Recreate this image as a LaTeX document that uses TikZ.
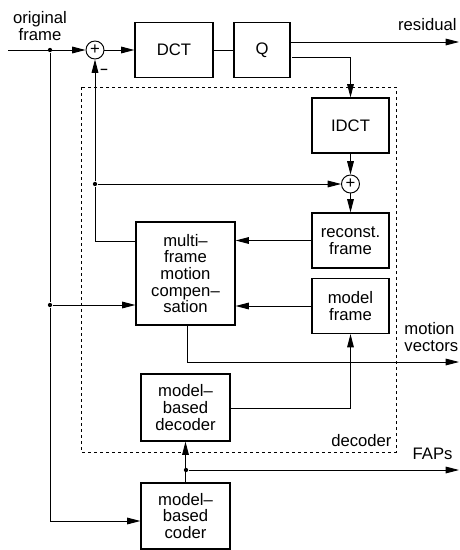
\documentclass[tikz,border=0pt]{standalone}
\usepackage{fontspec}
\setmainfont{Liberation Sans}
\usetikzlibrary{arrows.meta}
\begin{document}
\begin{tikzpicture}[x=0.75pt,y=-0.75pt,
  font=\fontsize{12.5}{12.5}\selectfont,
  line width=0.7pt,
  box/.style={draw, line width=0.9pt, inner sep=0pt, align=center},
  sum/.style={draw, circle, line width=0.7pt, minimum size=13.5pt, inner sep=0pt},
  arr/.style={-{Triangle[length=10pt,width=5pt]}},
  junction/.style={circle, fill, inner sep=0pt, minimum size=3.2pt},
  lbl/.style={inner sep=0pt, align=center}]
\useasboundingbox (0,0) rectangle (460,550);
% dashed decoder region
\draw[dash pattern=on 2.25pt off 2.25pt, line width=0.6pt] (81,87) rectangle (396,452);
\node[lbl, anchor=east] (declbl) at (392,441) {decoder};
% boxes
\node[box, minimum width=58.5pt, minimum height=41.25pt] (dct) at (174,50) {DCT};
\node[box, minimum width=42pt, minimum height=41.25pt] (q) at (262,50) {Q};
\node[box, minimum width=57.75pt, minimum height=41.25pt] (idct) at (350.5,125.5) {IDCT};
\node[box, minimum width=57.75pt, minimum height=41.25pt] (rec) at (350.5,240.5) {reconst.\\frame};
\node[box, minimum width=57.75pt, minimum height=41.25pt] (mf) at (350.5,306) {model\\frame};
\node[box, minimum width=74.25pt, minimum height=77.25pt] (mc) at (185.5,273.5) {multi–\\frame\\motion\\compen–\\sation};
\node[box, minimum width=66.75pt, minimum height=50.25pt] (dec) at (185.5,407.5) {model–\\based\\decoder};
\node[box, minimum width=66.75pt, minimum height=49.5pt] (cod) at (185.5,516) {model–\\based\\coder};
% summing points
\node[sum] (p1) at (95,50) {};
\node[lbl, font=\fontsize{12.5}{12.5}\selectfont] (p1plus) at (p1) {+};
\node[sum] (p2) at (350.5,184) {};
\node[lbl, font=\fontsize{12.5}{12.5}\selectfont] (p2plus) at (p2) {+};
\node[lbl, font=\bfseries] (minus) at (104,71) {–};
% texts
\node[lbl] (orig) at (40,26) {original\\frame};
\node[lbl, anchor=east] (resl) at (457,25) {residual};
\node[lbl, anchor=west, align=left] (mvl) at (404,337) {motion\\vectors};
\node[lbl, anchor=east] (fapl) at (453,454) {FAPs};
% junctions and free ends
\coordinate (in) at (8,50);
\node[junction] (d1) at (50,50) {};
\node[junction] (d2) at (95,184) {};
\node[junction] (d3) at (50,305) {};
\node[junction] (d4) at (186,470) {};
\coordinate (res) at (459,42);
\coordinate (mvo) at (459,362);
\coordinate (fapo) at (459,470);
\coordinate (qb) at (292,57);
% connectors
\draw[arr] (in) -- (p1);
\draw[arr] (p1) -- (dct);
\draw (dct) -- (q);
\draw[arr] (q.east |- res) -- (res);
\draw[arr] (qb) -| (idct.north);
\draw[arr] (idct) -- (p2);
\draw[arr] (p2) -- (rec);
\draw[arr] (d2) -- (p2);
\draw[arr] (mc.west |- 0,241) -| (d2) -- (p1);
\draw[arr] (rec.west) -- (mc.east |- rec.west);
\draw[arr] (mf.west) -- (mc.east |- mf.west);
\draw (d1) -- (d3);
\draw[arr] (d3) -- (mc.west |- d3);
\draw[arr] (d3) |- (cod.west |- 0,521);
\draw[arr] (187,325) |- (mvo);
\draw[arr] (dec.east |- 0,408) -| (mf.south);
\draw[arr] (cod.north) -- (dec.south);
\draw[arr] (d4) -- (fapo);
\end{tikzpicture}
\end{document}
